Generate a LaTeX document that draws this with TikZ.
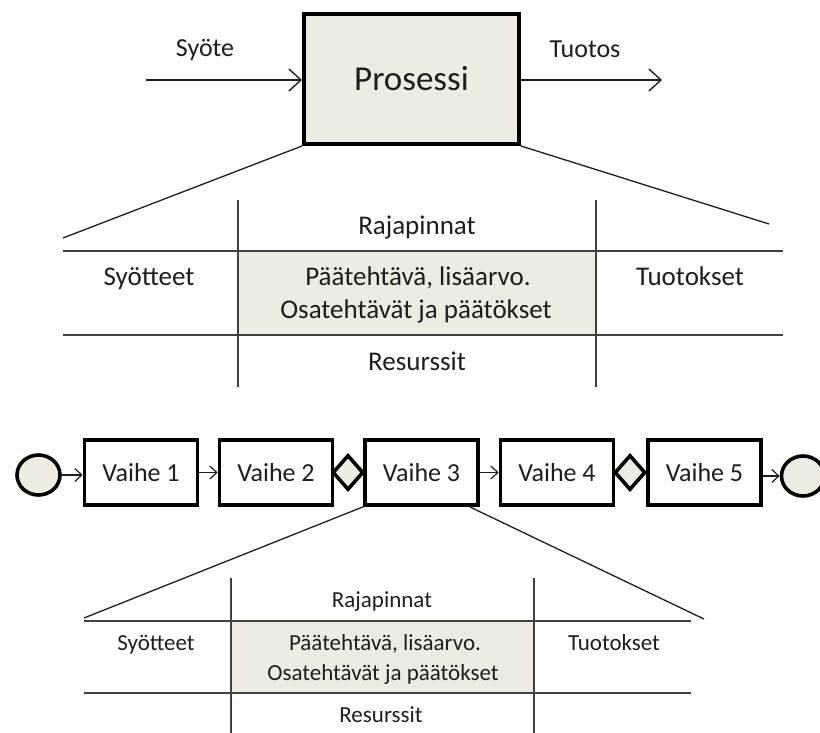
\documentclass[tikz,border=0pt]{standalone}
\usepackage{fontspec}
\setmainfont{Carlito}
\usetikzlibrary{arrows.meta,shapes.geometric}
\definecolor{paper}{HTML}{EEECE1}
\definecolor{ink}{HTML}{1E1E1E}
\definecolor{rule}{HTML}{404040}

\begin{document}
\begin{tikzpicture}[x=1pt,y=-1pt,
  lbl/.style={text=ink,inner sep=0pt,anchor=base},
  bigtxt/.style={font=\fontsize{26}{30}\selectfont},
  smalltxt/.style={font=\fontsize{23}{27}\selectfont},
  mainflow/.style={draw=ink,line width=1.4pt,
    -{Straight Barb[length=12pt,width=22pt,line width=1.4pt]}},
  stepflow/.style={draw=ink,line width=1.2pt,
    -{Straight Barb[length=7pt,width=13pt,line width=1.2pt]}},
  zoomline/.style={draw=ink,line width=1.3pt},
  hrule/.style={draw=rule,line width=2.2pt},
  vrule/.style={draw=rule,line width=1.4pt},
  stepbox/.style={draw=black,line width=3.6pt,fill=white,inner sep=0pt,
    minimum width=113pt,minimum height=65pt,text=ink,
    font=\fontsize{26}{30}\selectfont},
  gate/.style={diamond,draw=black,line width=3.6pt,fill=paper,inner sep=0pt,
    minimum width=31pt,minimum height=35pt},
  event/.style={ellipse,draw=black,line width=3.6pt,fill=paper,inner sep=0pt,
    minimum width=43pt,minimum height=40pt}
]
\useasboundingbox (0,0) rectangle (820,733);

% ---------- process with input and output ----------
\node[draw=black,line width=4pt,fill=paper,minimum width=215pt,minimum height=130pt,
      inner sep=0pt,text=ink,font=\fontsize{35}{40}\selectfont] (proc) at (411.5,79) {Prosessi};
\coordinate (inStart) at (146,80);
\coordinate (outEnd) at (662,80);
\draw[mainflow] (inStart) -- (proc.west |- inStart);
\draw[mainflow] (proc.east |- outEnd) -- (outEnd);
\node[lbl,bigtxt] (syote) at (205,57) {Syöte};
\node[lbl,bigtxt] (tuotos) at (585,58) {Tuotos};

% ---------- upper breakdown table ----------
\fill[paper] (238,251) rectangle (596,335);
\coordinate (tL) at (63,238);
\coordinate (tR) at (769,224);
\draw[zoomline] (proc.south west) -- (tL);
\draw[zoomline] (proc.south east) -- (tR);
\draw[hrule] (63,251) -- (783,251);
\draw[hrule] (63,335) -- (783,335);
\draw[vrule] (238,200) -- (238,387);
\draw[vrule] (596,200) -- (596,387);
\node[lbl,font=\fontsize{27}{31}\selectfont] (uRaja) at (417,234) {Rajapinnat};
\node[lbl,font=\fontsize{27}{31}\selectfont] (uSyot) at (149,285) {Syötteet};
\node[lbl,font=\fontsize{27}{31}\selectfont] (uPaa) at (418,285) {Päätehtävä, lisäarvo.};
\node[lbl,font=\fontsize{27}{31}\selectfont] (uTuot) at (690,285) {Tuotokset};
\node[lbl,font=\fontsize{27}{31}\selectfont] (uOsa) at (416,318) {Osatehtävät ja päätökset};
\node[lbl,font=\fontsize{27}{31}\selectfont] (uRes) at (417,370) {Resurssit};

% ---------- process chain ----------
\node[event] (start) at (38.5,475) {};
\node[stepbox] (v1) at (141,472.5) {Vaihe 1};
\node[stepbox] (v2) at (276,472.5) {Vaihe 2};
\node[gate] (g1) at (348,472.5) {};
\node[stepbox] (v3) at (421.5,472.5) {Vaihe 3};
\node[stepbox] (v4) at (557,472.5) {Vaihe 4};
\node[gate] (g2) at (630,472.5) {};
\node[stepbox] (v5) at (704.5,472.5) {Vaihe 5};
\node[event] (stop) at (803,476) {};
\draw[stepflow] (start.east) -- (v1.west |- start.east);
\draw[stepflow] (v1) -- (v2);
\draw[stepflow] (v3) -- (v4);
\draw[stepflow] (v5.east |- stop.west) -- (stop.west);

% ---------- lower breakdown table ----------
\fill[paper] (231,621) rectangle (534,693);
\coordinate (bL) at (84,618);
\coordinate (bR) at (704,619);
\coordinate (v3cut) at (470,507);
\draw[zoomline] (v3.south west) -- (bL);
\draw[zoomline] (v3cut) -- (bR);
\draw[hrule] (84,621) -- (691,621);
\draw[hrule] (84,693) -- (691,693);
\draw[vrule] (231,578) -- (231,740);
\draw[vrule] (534,578) -- (534,740);
\node[lbl,smalltxt] (lRaja) at (382,607) {Rajapinnat};
\node[lbl,smalltxt] (lSyot) at (156,650) {Syötteet};
\node[lbl,smalltxt] (lPaa) at (385,650) {Päätehtävä, lisäarvo.};
\node[lbl,smalltxt] (lTuot) at (614,650) {Tuotokset};
\node[lbl,smalltxt] (lOsa) at (383,680) {Osatehtävät ja päätökset};
\node[lbl,smalltxt] (lRes) at (381,722) {Resurssit};
\end{tikzpicture}
\end{document}
